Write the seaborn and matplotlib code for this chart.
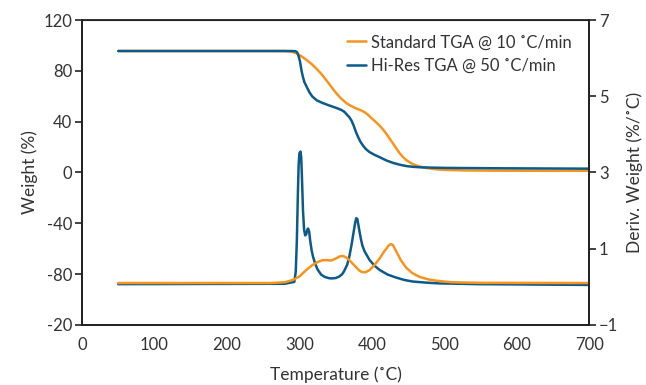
import numpy as np
import pandas as pd
import seaborn as sns
import matplotlib.pyplot as plt

# Weight curves (left axis, %)
std_w_t = [50, 280, 290, 296, 303, 310, 317, 323, 330, 337, 344, 351, 358, 365, 372, 378, 384, 390, 395, 400,
           405, 410, 415, 420, 424, 429, 434, 438, 443, 447, 452, 456, 463, 470, 477, 484, 493, 502, 530, 576, 700]
std_w = [95.6, 95.6, 95.0, 93.8, 91.4, 88.5, 85.3, 82.0, 77.8, 72.8, 67.5, 62.3, 58.0, 54.5, 52.2, 50.5, 49.2, 47.5, 45.3, 42.5,
         40.0, 37.3, 34.2, 30.5, 27.2, 23.0, 18.8, 15.5, 12.2, 10.0, 8.1, 6.7, 5.2, 4.1, 3.4, 2.8, 2.3, 2.0, 1.6, 1.4, 1.3]

hr_w_t = [50, 290, 295, 297, 299, 301, 303, 305, 307, 310, 314, 318, 324, 332, 340, 346, 352, 358, 362, 366, 369,
          372, 375, 378, 381, 384, 388, 392, 397, 404, 411, 420, 429, 438, 447, 456, 466, 484, 502, 576, 700]
hr_w = [95.6, 95.6, 95.4, 94.5, 91.5, 87.0, 80.0, 75.0, 71.0, 67.5, 63.0, 59.7, 56.8, 54.7, 53.0, 51.8, 50.6, 49.2, 47.8, 45.3, 43.5,
        40.8, 36.8, 32.0, 28.0, 24.5, 21.0, 18.3, 16.0, 13.8, 12.0, 9.5, 7.6, 6.2, 5.1, 4.5, 4.1, 3.8, 3.6, 3.3, 3.0]

# Derivative curves (right axis, %/C)
std_d_t = [50, 260, 280, 291, 300, 310, 318, 325, 332, 338, 344, 350, 356, 360, 364, 369, 374, 378, 382, 386, 391,
           397, 404, 411, 416, 420, 423, 426, 429, 434, 440, 448, 456, 466, 477, 489, 510, 548, 700]
std_d = [0.10, 0.10, 0.12, 0.18, 0.27, 0.45, 0.57, 0.65, 0.70, 0.70, 0.69, 0.74, 0.80, 0.81, 0.78, 0.70, 0.60, 0.52, 0.44, 0.39, 0.38,
         0.44, 0.58, 0.75, 0.90, 1.00, 1.08, 1.12, 1.10, 0.92, 0.70, 0.49, 0.36, 0.26, 0.20, 0.16, 0.12, 0.105, 0.10]

hr_d_t = [50, 280, 293, 295, 296.5, 298, 299, 300, 301.5, 302.5, 303.5, 305, 306.5, 308, 309.5, 311, 312, 313.5, 315,
          317, 319, 322, 325, 330, 335, 340, 344, 350, 355, 359, 362, 366, 369, 372, 375, 377, 378.5, 380, 381.5,
          383, 385, 387, 390, 394, 397, 404, 411, 422, 434, 445, 456, 475, 493, 548, 700]
hr_d = [0.07, 0.08, 0.13, 0.4, 1.2, 2.5, 3.2, 3.5, 3.55, 3.4, 2.9, 2.0, 1.5, 1.35, 1.38, 1.5, 1.53, 1.45, 1.2,
        0.95, 0.78, 0.6, 0.46, 0.32, 0.26, 0.23, 0.22, 0.23, 0.27, 0.33, 0.42, 0.58, 0.8, 1.1, 1.45, 1.68, 1.80, 1.78, 1.62,
        1.45, 1.25, 1.08, 0.93, 0.80, 0.70, 0.55, 0.44, 0.32, 0.24, 0.18, 0.14, 0.11, 0.09, 0.07, 0.05]

left_ticks = [-120, -80, -40, 0, 40, 80, 120]
left_labels = ['-20', '-80', '-40', '0', '40', '80', '120']
right_ticks = [-1, 1, 3, 5, 7]
x_ticks = [0, 100, 200, 300, 400, 500, 600, 700]

orange = '#F7941D'
blue = '#0B5A8A'
text_col = '#333333'

sns.set_theme(style='white')
plt.rcParams['font.family'] = ['Lato', 'DejaVu Sans']
plt.rcParams['axes.edgecolor'] = '#222222'
plt.rcParams['axes.linewidth'] = 1.3

fig = plt.figure(figsize=(6.46, 3.85), dpi=100)
ax = fig.add_axes([0.127, 0.156, 0.785, 0.792])
ax2 = ax.twinx()

std_w_df = pd.DataFrame({'t': std_w_t, 'v': std_w})
hr_w_df = pd.DataFrame({'t': hr_w_t, 'v': hr_w})
std_d_df = pd.DataFrame({'t': std_d_t, 'v': std_d})
hr_d_df = pd.DataFrame({'t': hr_d_t, 'v': hr_d})

sns.lineplot(data=std_w_df, x='t', y='v', ax=ax, color=orange, lw=1.8, sort=False, estimator=None,
             label='Standard TGA @ 10 ˚C/min')
sns.lineplot(data=hr_w_df, x='t', y='v', ax=ax, color=blue, lw=1.8, sort=False, estimator=None,
             label='Hi-Res TGA @ 50 ˚C/min')
sns.lineplot(data=hr_d_df, x='t', y='v', ax=ax2, color=blue, lw=1.8, sort=False, estimator=None, legend=False)
sns.lineplot(data=std_d_df, x='t', y='v', ax=ax2, color=orange, lw=1.8, sort=False, estimator=None, legend=False)

for line in ax.lines + ax2.lines:
    line.set_solid_joinstyle('round')

ax.set_xlim(0, 700)
ax.set_ylim(-120, 120)
ax2.set_ylim(-1, 7)
ax.set_xticks(x_ticks)
ax.set_yticks(left_ticks)
ax.set_yticklabels(left_labels)
ax2.set_yticks(right_ticks)

for a in (ax, ax2):
    a.tick_params(axis='both', direction='out', length=5, width=1.2, color='#222222',
                  labelsize=12, labelcolor=text_col, pad=2)
    for s in a.spines.values():
        s.set_visible(True)
        s.set_color('#222222')
ax.tick_params(axis='x', pad=4)
ax.spines['top'].set_linewidth(0.8)

ax.set_xlabel('Temperature (˚C)', fontsize=12.5, color=text_col, labelpad=9)
ax.set_ylabel('Weight (%)', fontsize=12.5, color=text_col, labelpad=4)
ax2.set_ylabel('Deriv. Weight (%/˚C)', fontsize=12.5, color=text_col, labelpad=6)

leg = ax.legend(loc='upper left', bbox_to_anchor=(0.51, 0.975), frameon=False, fontsize=12,
                handlelength=1.1, handletextpad=0.3, labelspacing=0.45, borderaxespad=0)
for t in leg.get_texts():
    t.set_color(text_col)

fig.savefig('out.png', dpi=100)
